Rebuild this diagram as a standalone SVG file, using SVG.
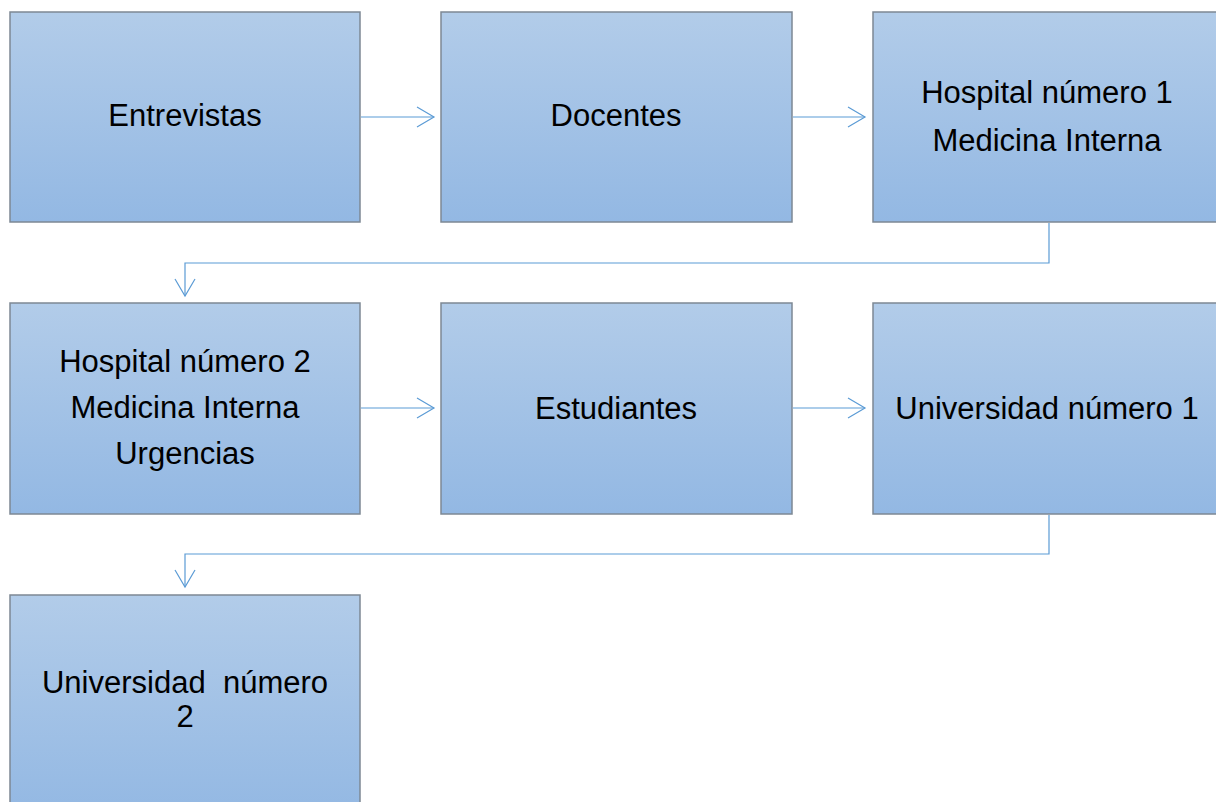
<svg xmlns="http://www.w3.org/2000/svg" width="1216" height="802" viewBox="0 0 1216 802">
<defs>
<linearGradient id="g" x1="0" y1="0" x2="0" y2="1">
<stop offset="0" stop-color="#B2CCE9"/>
<stop offset="1" stop-color="#93B8E3"/>
</linearGradient>
<marker id="ah" markerWidth="20" markerHeight="24" refX="18" refY="11" orient="auto" markerUnits="userSpaceOnUse">
<path d="M1,1 L18,11 L1,21" fill="none" stroke="#5B9BD5" stroke-width="1.2"/>
</marker>
</defs>
<style>
.box{fill:url(#g);stroke:#7D8894;stroke-width:1.5}
.t{font-family:"Liberation Sans",Arial,sans-serif;font-size:31px;fill:#000;text-anchor:middle}
.c{fill:none;stroke:#5B9BD5;stroke-width:1.2;marker-end:url(#ah)}
</style>
<rect width="1216" height="802" fill="#fff"/>
<g id="n1"><rect class="box" x="10" y="12" width="350" height="210"/><text class="t" x="185" y="126">Entrevistas</text></g>
<g id="n2"><rect class="box" x="441" y="12" width="351" height="210"/><text class="t" x="616" y="126">Docentes</text></g>
<g id="n3"><rect class="box" x="873" y="12" width="350" height="210"/><text class="t" x="1047" y="103">Hospital número 1</text><text class="t" x="1047" y="151">Medicina Interna</text></g>
<g id="n4"><rect class="box" x="10" y="303" width="350" height="211"/><text class="t" x="185" y="372">Hospital número 2</text><text class="t" x="185" y="418">Medicina Interna</text><text class="t" x="185" y="464">Urgencias</text></g>
<g id="n5"><rect class="box" x="441" y="303" width="351" height="211"/><text class="t" x="616" y="419">Estudiantes</text></g>
<g id="n6"><rect class="box" x="873" y="303" width="350" height="211"/><text class="t" x="1047" y="419">Universidad número 1</text></g>
<g id="n7"><rect class="box" x="10" y="595" width="350" height="220"/><text class="t" x="185" y="693" xml:space="preserve">Universidad  número</text><text class="t" x="185" y="727">2</text></g>
<g id="connectors">
<path class="c" d="M361,117 H434"/>
<path class="c" d="M793,117 H865"/>
<path class="c" d="M1049,223 V263 H185 V296"/>
<path class="c" d="M361,408 H434"/>
<path class="c" d="M793,408 H865"/>
<path class="c" d="M1049,515 V554 H185 V587"/>
</g>
</svg>
